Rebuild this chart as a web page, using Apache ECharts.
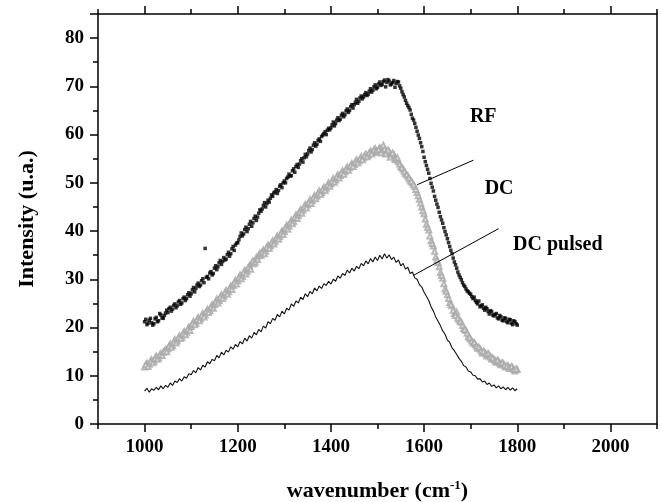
<!DOCTYPE html>
<html>
<head>
<meta charset="utf-8">
<script src="https://cdn.jsdelivr.net/npm/echarts@6/dist/echarts.min.js"></script>
<style>
  html, body { margin: 0; padding: 0; background: #fff; }
  #main { width: 662px; height: 502px; }
</style>
</head>
<body>
<div id="main"></div>
<script>
// ---- data, wavenumber from 1000 to 1800 every 5 cm-1 ----
// the *Mid arrays are the readings in between (1002.5, 1007.5, ...)
var wnStart = 1000;
var wnStep = 5;

var rf = [
  21.2, 20.6, 21.5, 21.0, 20.8, 22.1, 21.4, 22.6, 21.9, 23.0,
  23.1, 24.2, 23.8, 24.9, 24.5, 25.6, 25.1, 26.3, 26.0, 27.2,
  27.0, 28.3, 28.1, 29.2, 28.8, 30.1, 36.4, 30.6, 31.3, 30.9,
  32.3, 32.0, 33.4, 33.1, 34.5, 34.2, 35.6, 35.3, 36.8, 37.1,
  37.6, 38.9, 39.0, 40.3, 39.9, 41.4, 41.0, 42.6, 42.2, 43.7,
  44.1, 45.3, 45.0, 46.4, 46.8, 47.2, 48.1, 47.8, 49.3, 49.0,
  50.4, 50.9, 51.8, 51.5, 52.9, 53.4, 53.2, 54.6, 54.3, 55.9,
  56.0, 57.2, 56.9, 58.3, 58.0, 59.1, 59.6, 60.2, 60.0, 61.3,
  61.4, 62.6, 62.3, 63.5, 63.2, 64.4, 64.1, 65.3, 65.0, 66.2,
  66.2, 67.3, 66.9, 68.0, 67.8, 68.7, 68.4, 69.5, 69.2, 70.3,
  69.8, 70.9, 70.4, 71.3, 70.8, 71.1, 70.5, 71.2, 70.6, 70.9,
  69.6, 68.3, 67.1, 66.0, 65.1, 63.4, 62.3, 60.7, 59.2, 57.5,
  55.3, 53.6, 52.0, 49.9, 48.3, 46.4, 44.9, 43.0, 41.6, 39.9,
  38.4, 36.8, 35.3, 33.6, 32.3, 30.9, 29.9, 28.8, 28.0, 27.4,
  26.9, 26.0, 25.6, 24.9, 24.3, 24.7, 23.6, 23.9, 22.8, 23.3,
  22.4, 22.9, 21.8, 22.2, 21.4, 21.9, 21.0, 21.6, 20.6, 21.2,
  20.5
];
var rfMid = [
  21.7, 20.9, 21.9, 20.5, 21.8, 21.2, 22.9, 22.0, 22.5, 23.6,
  23.9, 23.4, 24.6, 24.1, 25.3, 24.8, 26.0, 25.6, 26.8, 26.5,
  27.8, 27.4, 28.8, 28.5, 29.7, 29.3, 30.4, 30.1, 31.6, 31.2,
  32.8, 32.6, 33.9, 33.7, 34.0, 35.1, 34.8, 36.3, 36.0, 37.5,
  38.2, 39.6, 39.4, 40.8, 40.5, 42.0, 41.7, 43.1, 42.9, 44.4,
  44.6, 45.9, 45.7, 46.0, 47.5, 47.9, 48.6, 48.4, 49.6, 50.0,
  50.0, 51.2, 51.4, 52.5, 52.2, 53.8, 53.9, 55.0, 55.2, 55.4,
  56.7, 56.4, 57.8, 57.6, 58.8, 58.6, 59.9, 60.6, 60.9, 61.0,
  62.0, 61.8, 63.0, 62.9, 64.0, 63.7, 64.9, 64.6, 65.8, 65.5,
  66.7, 66.5, 67.6, 67.4, 68.3, 68.1, 69.0, 68.8, 69.9, 69.5,
  70.5, 70.2, 71.0, 69.9, 71.4, 70.3, 70.8, 69.8, 71.0, 70.1,
  68.9, 67.8, 66.5, 65.6, 64.2, 63.0, 61.5, 59.9, 58.3, 56.5,
  54.4, 52.8, 50.9, 49.1, 47.2, 45.6, 43.9, 42.3, 40.7, 39.2,
  37.6, 36.0, 34.4, 33.0, 31.5, 30.4, 29.3, 28.5, 27.6, 27.1,
  26.4, 26.3, 25.2, 25.5, 24.5, 24.0, 24.2, 23.3, 23.5, 22.6,
  22.7, 22.0, 22.5, 21.5, 22.0, 21.2, 21.7, 20.9, 21.4, 20.8
];

var dc = [
  11.8, 12.6, 12.4, 13.3, 13.0, 14.1, 13.7, 14.6, 14.9, 15.5,
  15.6, 16.6, 16.3, 17.5, 17.2, 18.3, 18.0, 19.2, 19.0, 20.1,
  20.2, 21.3, 20.9, 22.1, 21.8, 22.9, 22.6, 23.8, 23.5, 24.7,
  24.8, 25.9, 25.6, 26.8, 26.5, 27.7, 27.4, 28.6, 28.7, 29.8,
  29.7, 30.9, 30.6, 31.9, 31.6, 32.8, 33.4, 33.2, 34.5, 34.9,
  35.0, 36.1, 35.8, 37.1, 36.9, 38.0, 37.8, 39.0, 38.8, 40.0,
  39.9, 41.2, 41.0, 42.3, 42.0, 43.4, 43.2, 44.5, 44.3, 45.5,
  45.4, 46.5, 46.3, 47.4, 47.2, 48.3, 48.0, 49.1, 48.9, 50.0,
  49.8, 50.9, 50.6, 51.7, 51.5, 52.5, 52.3, 53.3, 53.1, 54.0,
  53.8, 54.8, 54.5, 55.4, 55.2, 56.0, 55.7, 56.6, 56.3, 57.1,
  56.4, 57.3, 56.6, 57.0, 56.1, 56.5, 55.6, 55.9, 54.8, 54.4,
  53.4, 52.8, 52.0, 51.4, 50.6, 50.0, 49.2, 48.0, 46.6, 45.0,
  43.6, 41.4, 40.2, 38.0, 36.9, 34.6, 33.5, 31.4, 30.2, 28.0,
  26.8, 25.2, 24.5, 22.9, 23.2, 21.6, 21.1, 19.8, 19.4, 18.2,
  17.6, 16.8, 16.5, 15.7, 15.6, 14.7, 14.9, 14.1, 14.3, 13.5,
  13.4, 12.8, 13.0, 12.3, 12.5, 11.8, 12.1, 11.5, 11.7, 11.0,
  11.3
];
var dcMid = [
  12.3, 11.9, 13.0, 12.7, 13.6, 13.4, 14.3, 14.2, 15.1, 15.0,
  16.1, 15.9, 17.0, 16.8, 17.9, 17.7, 18.7, 18.5, 19.6, 19.4,
  20.8, 20.6, 21.6, 21.4, 22.5, 22.2, 23.3, 23.1, 24.2, 24.0,
  25.3, 25.1, 26.3, 26.0, 27.2, 26.9, 28.1, 27.9, 29.3, 29.0,
  30.3, 30.1, 31.4, 31.1, 32.4, 32.1, 33.8, 33.6, 34.1, 35.4,
  35.6, 35.3, 36.6, 36.4, 37.5, 37.3, 38.5, 38.3, 39.5, 39.3,
  40.6, 40.4, 41.7, 41.5, 42.8, 42.6, 43.9, 43.7, 45.0, 44.8,
  45.9, 45.7, 46.9, 46.7, 47.9, 47.6, 48.6, 48.4, 49.5, 49.3,
  50.3, 50.1, 51.2, 51.0, 52.0, 51.8, 52.8, 52.6, 53.6, 53.4,
  54.3, 54.1, 55.0, 54.8, 55.6, 55.4, 56.2, 56.0, 56.8, 56.5,
  56.9, 56.2, 57.8, 56.0, 56.8, 55.3, 56.2, 54.9, 55.2, 53.9,
  53.1, 52.4, 51.7, 51.0, 50.3, 49.6, 48.6, 47.3, 45.8, 44.2,
  42.5, 40.8, 39.0, 37.4, 35.8, 34.0, 32.6, 30.8, 29.1, 27.5,
  26.0, 24.8, 23.6, 22.5, 22.0, 21.3, 20.4, 19.6, 18.8, 17.9,
  17.2, 16.9, 16.1, 15.9, 15.2, 15.1, 14.5, 14.6, 13.9, 13.7,
  13.1, 13.2, 12.6, 12.7, 12.2, 12.0, 11.6, 11.9, 11.3, 11.4
];

var dcPulsed = [
  6.8, 7.4, 6.6, 7.3, 7.0, 7.6, 7.1, 7.9, 7.3, 8.0,
  7.6, 8.5, 8.0, 8.9, 8.6, 9.4, 8.9, 9.8, 9.5, 10.4,
  10.2, 11.1, 10.6, 11.7, 11.2, 12.2, 11.8, 12.9, 12.5, 13.4,
  13.1, 14.2, 13.7, 14.9, 14.3, 15.3, 14.9, 16.0, 15.5, 16.5,
  16.0, 17.1, 16.6, 17.8, 17.2, 18.3, 17.8, 19.0, 18.5, 19.6,
  19.1, 20.3, 19.9, 21.2, 20.8, 21.9, 21.5, 22.7, 22.2, 23.4,
  22.8, 24.0, 23.6, 24.9, 24.4, 25.5, 25.1, 26.3, 25.8, 27.0,
  26.4, 27.5, 27.0, 28.2, 27.6, 28.6, 28.1, 29.1, 28.7, 29.6,
  29.0, 30.0, 29.6, 30.7, 30.2, 31.2, 30.8, 31.9, 31.3, 32.3,
  31.7, 32.7, 32.2, 33.3, 32.8, 33.8, 33.2, 34.3, 33.6, 34.6,
  33.9, 35.0, 34.2, 35.3, 34.4, 35.1, 34.1, 34.6, 33.5, 34.0,
  32.8, 33.3, 32.1, 32.5, 31.2, 31.5, 30.3, 30.0, 28.9, 28.4,
  27.3, 26.5, 25.6, 24.3, 23.4, 22.2, 21.3, 20.4, 19.3, 18.6,
  17.4, 16.9, 15.8, 15.2, 14.4, 13.6, 13.0, 12.1, 11.8, 11.0,
  10.8, 10.1, 10.0, 9.3, 9.4, 8.7, 8.9, 8.2, 8.5, 7.8,
  8.1, 7.5, 7.9, 7.3, 7.7, 7.1, 7.6, 7.0, 7.5, 6.9,
  7.3
];

// tick labels
var xLabels = [1000, 1200, 1400, 1600, 1800, 2000];
var yLabels = [0, 10, 20, 30, 40, 50, 60, 70, 80];

// arrows [from, to] and text notes, in data units
var arrows = [
  [[1706, 54.7], [1585, 49.6]],
  [[1760, 40.5], [1577, 30.8]]
];
var notes = [
  { text: 'RF', at: [1727, 63.6] },
  { text: 'DC', at: [1761, 48.7] },
  { text: 'DC pulsed', at: [1887, 37.1] }
];

function toXY(arr, offset) {
  return arr.map(function (v, i) { return [wnStart + offset + i * wnStep, v]; });
}

var FONT = 'Liberation Serif';
var tickStyle = { color: '#000', width: 1.5 };

// label-only axis (ticks are drawn by a second, label-free axis on the same side)
function labelAxis(kind, pos, labels) {
  return {
    type: 'value', position: pos,
    min: kind === 'x' ? 900 : 0,
    max: kind === 'x' ? 2100 : 85,
    axisLine: { show: false },
    axisTick: { show: false },
    axisLabel: {
      show: true, customValues: labels, margin: 14,
      fontFamily: FONT, fontWeight: 'bold', fontSize: 19, color: '#000',
      formatter: function (v) { return String(v); }
    },
    splitLine: { show: false }
  };
}

// tick-only axis
// x: ticks counted from min 900 every 200 -> odd hundreds (short), minor split -> even hundreds (long)
// y: ticks every 10 (long), minor split -> every 5 (short)
function tickAxis(kind, pos) {
  var isX = kind === 'x';
  return {
    type: 'value', position: pos,
    min: isX ? 900 : 0,
    max: isX ? 2100 : 85,
    interval: isX ? 200 : 10,
    axisLine: { show: false },
    axisTick: { show: true, length: isX ? 5 : 8, lineStyle: tickStyle },
    minorTick: { show: true, splitNumber: 2, length: isX ? 8 : 5, lineStyle: tickStyle },
    axisLabel: { show: false },
    splitLine: { show: false },
    minorSplitLine: { show: false }
  };
}

var xMain = labelAxis('x', 'bottom', xLabels);
xMain.name = '{a|wavenumber (cm}{b|-1}{a|)}';
xMain.nameLocation = 'middle';
xMain.nameGap = 55;
xMain.nameTextStyle = {
  rich: {
    a: { fontFamily: FONT, fontWeight: 'bold', fontSize: 22, color: '#000' },
    b: { fontFamily: FONT, fontWeight: 'bold', fontSize: 13, color: '#000', verticalAlign: 'top', padding: [0, 0, 12, 0] }
  }
};

var yMain = labelAxis('y', 'left', yLabels);
yMain.name = 'Intensity (u.a.)';
yMain.nameLocation = 'middle';
yMain.nameGap = 60;
yMain.nameTextStyle = { fontFamily: FONT, fontWeight: 'bold', fontSize: 22, color: '#000' };

var chart = echarts.init(document.getElementById('main'));

chart.setOption({
  animation: false,
  backgroundColor: '#fff',
  grid: {
    left: 98, right: 5, top: 14, bottom: 78, outerBoundsMode: 'none',
    show: true, borderColor: '#000', borderWidth: 1.5, backgroundColor: 'transparent'
  },
  xAxis: [xMain, tickAxis('x', 'bottom'), tickAxis('x', 'top')],
  yAxis: [yMain, tickAxis('y', 'left')],
  series: [
    {
      name: 'RF', type: 'scatter', xAxisIndex: 0, yAxisIndex: 0,
      data: toXY(rf, 0).concat(toXY(rfMid, wnStep / 2)),
      symbol: 'rect', symbolSize: 3.5,
      itemStyle: { color: '#000' }
    },
    {
      name: 'DC', type: 'scatter', xAxisIndex: 0, yAxisIndex: 0,
      data: toXY(dc, 0).concat(toXY(dcMid, wnStep / 2)),
      symbol: 'emptyTriangle', symbolSize: 5,
      itemStyle: { color: '#a8a8a8', borderWidth: 0.5 }
    },
    {
      name: 'DC pulsed', type: 'line', xAxisIndex: 0, yAxisIndex: 0,
      data: toXY(dcPulsed, 0),
      symbol: 'none',
      lineStyle: { color: '#111', width: 1.1 },
      markLine: {
        silent: true,
        symbol: ['none', 'arrow'],
        symbolSize: [0, 9],
        label: { show: false },
        lineStyle: { color: '#000', width: 1, type: 'solid' },
        data: arrows.map(function (a) {
          return [{ coord: a[0] }, { coord: a[1] }];
        })
      }
    }
  ]
});

// text notes next to the arrows
chart.setOption({
  graphic: notes.map(function (n) {
    var p = chart.convertToPixel({ seriesIndex: 0 }, n.at);
    return {
      type: 'text', x: p[0], y: p[1], silent: true,
      style: {
        text: n.text, fill: '#000',
        font: 'bold 20px "Liberation Serif"',
        align: 'center', verticalAlign: 'middle'
      }
    };
  })
});
</script>
</body>
</html>
